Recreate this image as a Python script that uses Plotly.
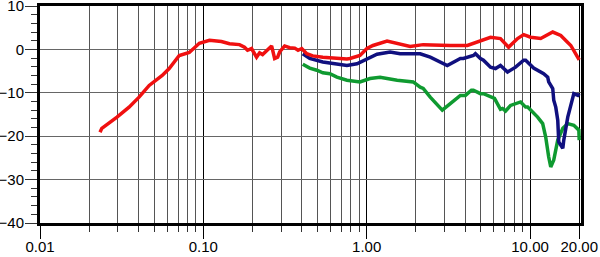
import plotly.graph_objects as go

# Red series
red_x = [0.0233, 0.0239, 0.0296, 0.0351, 0.0404, 0.0466, 0.0560, 0.0618, 0.0712, 0.0820,
         0.0945, 0.109, 0.129, 0.1445, 0.1665, 0.1786, 0.1864, 0.1972, 0.2118, 0.2210,
         0.2305, 0.2439, 0.2618, 0.2731, 0.2850, 0.2932, 0.3147, 0.3378, 0.3626, 0.3800,
         0.4003, 0.4297, 0.4677, 0.5387, 0.6571, 0.7568, 0.7899, 0.9095, 1.004, 1.093,
         1.333, 1.536, 1.846, 2.218, 2.704, 3.25, 4.135, 4.76, 5.73, 6.59,
         7.39, 8.39, 9.14, 10.09, 11.62, 13.77, 15.42, 17.77, 19.3, 20.0]
red_y = [-19.1, -18.2, -15.6, -13.3, -11.0, -8.3, -6.0, -4.4, -1.4, -0.7,
         1.4, 2.1, 1.8, 1.3, 1.1, 0.5, -0.2, 0.2, -1.8, -0.8,
         -1.2, -0.2, 0.8, -2.1, -1.8, -0.6, 0.8, 0.4, 0.3, -0.2,
         0.2, -1.0, -1.5, -1.8, -2.1, -2.2, -2.1, -1.4, 0.2, 0.9,
         1.9, 1.4, 0.7, 1.1, 0.9, 0.9, 0.9, 1.7, 2.8, 2.5,
         0.5, 2.5, 3.4, 2.8, 2.5, 4.0, 3.2, 0.9, -1.6, -2.4]

# Blue series
blue_x = [0.406, 0.448, 0.5387, 0.6571, 0.7568, 0.872, 1.004, 1.157, 1.391, 1.602,
          1.769, 2.038, 2.126, 2.449, 2.556, 2.822, 3.115, 3.745, 3.908, 4.502,
          4.630, 4.970, 5.186, 5.73, 6.146, 6.59, 7.285, 8.155, 8.39, 9.14,
          9.40, 10.52, 12.12, 12.83, 13.01, 13.77, 13.97, 14.37, 14.78, 14.99,
          15.87, 16.09, 17.02, 17.77, 18.54, 19.62, 20.0]
blue_y = [-1.0, -2.1, -2.9, -3.3, -3.7, -3.3, -2.1, -1.1, -0.6, -1.0,
          -1.0, -0.9, -1.0, -1.8, -2.1, -2.9, -3.7, -2.1, -2.1, -1.4,
          -1.0, -2.1, -2.5, -4.1, -4.4, -3.7, -5.2, -4.1, -3.7, -2.5,
          -2.5, -4.3, -5.6, -6.4, -7.5, -9.0, -11.7, -13.3, -16.3, -21.3,
          -22.8, -20.9, -15.6, -12.5, -10.2, -10.6, -10.2]

# Green series
green_x = [0.406, 0.448, 0.495, 0.5387, 0.595, 0.657, 0.757, 0.9095, 1.048, 1.207,
           1.536, 1.846, 1.926, 2.126, 2.218, 2.449, 2.556, 2.903, 3.25, 3.589,
           3.745, 4.02, 4.376, 4.502, 4.97, 5.186, 5.73, 6.06, 6.59, 6.785,
           7.08, 7.60, 8.755, 9.40, 9.67, 11.13, 11.95, 12.47, 13.01, 13.39,
           13.97, 14.78, 15.87, 17.02, 18.54, 19.9, 20.0]
green_y = [-3.4, -4.3, -4.8, -5.4, -5.6, -6.4, -7.1, -7.5, -6.7, -6.4,
           -7.1, -7.3, -7.5, -8.7, -9.0, -11.0, -11.7, -14.0, -12.5, -11.0,
           -10.6, -10.6, -9.4, -9.4, -10.2, -10.2, -11.0, -11.3, -13.8, -13.6,
           -14.2, -12.9, -12.1, -13.3, -13.3, -15.6, -17.1, -20.2, -24.8, -27.1,
           -25.5, -20.9, -18.2, -17.1, -17.5, -18.6, -20.9]

x_tickvals = [0.01, 0.1, 1, 10, 20]
x_ticktext = ["0.01", "0.10", "1.00", "10.00", "20.00"]
minor_mult = [2, 3, 4, 5, 6, 7, 8, 9]
decades = [0.01, 0.1, 1, 10]
y_tickvals = [10, 0, -10, -20, -30, -40]

minor_vals = [d * m for d in decades for m in minor_mult if d * m < 20.5]

fig = go.Figure()
fig.add_trace(go.Scatter(x=green_x, y=green_y, mode="lines",
                         line=dict(color="#0f9a30", width=3.5)))
fig.add_trace(go.Scatter(x=blue_x, y=blue_y, mode="lines",
                         line=dict(color="#10107f", width=3.5)))
fig.add_trace(go.Scatter(x=red_x, y=red_y, mode="lines",
                         line=dict(color="#f01010", width=3.5)))

font = dict(family="Liberation Sans, Arial, sans-serif", size=15, color="black")

fig.update_layout(
    template="none",
    width=600, height=257,
    margin=dict(l=40, r=19, t=6, b=34),
    paper_bgcolor="white", plot_bgcolor="white",
    showlegend=False,
    font=font,
    xaxis=dict(
        type="log", range=[-2, 1.312], automargin=False,
        tickmode="array", tickvals=x_tickvals, ticktext=x_ticktext,
        ticks="outside", ticklen=13, tickwidth=1, tickcolor="black",
        ticklabelstandoff=-5,
        showgrid=True, gridcolor="black", gridwidth=1,
        showline=True, linecolor="black", linewidth=3, mirror=True,
        zeroline=False, ticklabeloverflow="allow",
        minor=dict(tickmode="array", tickvals=minor_vals, ticks="outside",
                   ticklen=6, tickwidth=1, tickcolor="#333",
                   showgrid=True, gridcolor="#555", gridwidth=1),
        tickfont=font,
    ),
    yaxis=dict(
        range=[-40, 10], automargin=False,
        tickmode="array", tickvals=y_tickvals,
        ticks="outside", ticklen=12, tickwidth=1, tickcolor="#333",
        ticklabelstandoff=-2,
        showgrid=True, gridcolor="#666", gridwidth=1,
        showline=True, linecolor="black", linewidth=3, mirror=True,
        zeroline=False, ticklabeloverflow="allow",
        minor=dict(dtick=2, ticks="outside", ticklen=6, tickwidth=1,
                   tickcolor="#333", showgrid=False),
        tickfont=font,
    ),
)

fig.write_html("out.html")
